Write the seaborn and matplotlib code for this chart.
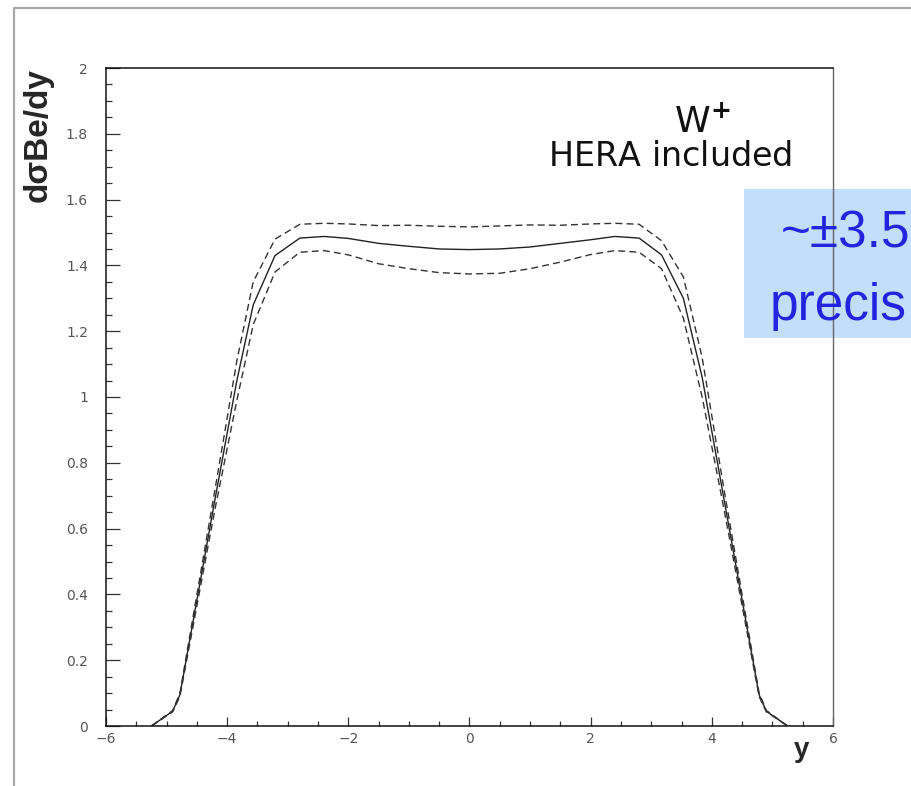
import matplotlib
matplotlib.use("Agg")
import numpy as np
import pandas as pd
import seaborn as sns
import matplotlib.pyplot as plt
from matplotlib.ticker import MultipleLocator, FixedLocator, FixedFormatter
from matplotlib.patches import Rectangle
from matplotlib.lines import Line2D

# ---- data ----
rapidity = [-5.25, -4.9, -4.78, -4.2, -3.84, -3.57, -3.21, -2.8, -2.4, -2.0, -1.5, -1.0, -0.5, 0.0,
            0.5, 1.0, 1.5, 2.0, 2.4, 2.8, 3.17, 3.53, 3.84, 4.2, 4.78, 4.9, 5.25]
central = [0, 0.045, 0.095, 0.69, 1.05, 1.28, 1.43, 1.483, 1.488, 1.482, 1.467, 1.458, 1.45, 1.448,
           1.45, 1.456, 1.467, 1.478, 1.488, 1.483, 1.432, 1.30, 1.06, 0.69, 0.095, 0.045, 0]
upper = [0, 0.047, 0.10, 0.72, 1.11, 1.35, 1.48, 1.525, 1.528, 1.526, 1.521, 1.522, 1.519, 1.517,
         1.52, 1.523, 1.522, 1.526, 1.528, 1.525, 1.475, 1.365, 1.12, 0.72, 0.10, 0.047, 0]
lower = [0, 0.043, 0.09, 0.66, 0.99, 1.22, 1.38, 1.44, 1.445, 1.432, 1.405, 1.39, 1.378, 1.374,
         1.376, 1.39, 1.41, 1.433, 1.445, 1.44, 1.39, 1.24, 1.00, 0.66, 0.09, 0.043, 0]

xtick_values = [-6, -4, -2, 0, 2, 4, 6]
xtick_labels = ["\u22126", "\u22124", "\u22122", "0", "2", "4", "6"]
ytick_values = [0, 0.2, 0.4, 0.6, 0.8, 1.0, 1.2, 1.4, 1.6, 1.8, 2.0]
ytick_labels = ["0", "0.2", "0.4", "0.6", "0.8", "1", "1.2", "1.4", "1.6", "1.8", "2"]

df = pd.DataFrame({"y": rapidity, "central": central, "upper": upper, "lower": lower})

sns.set_style("white")
plt.rcParams["font.family"] = ["DejaVu Sans"]
plt.rcParams["mathtext.fontset"] = "dejavusans"

fig = plt.figure(figsize=(9.12, 7.86), dpi=100)
fig.patch.set_facecolor("white")
W, H = 912, 786
ax = fig.add_axes([106 / W, 1 - 726 / H, (833 - 106) / W, (726 - 68) / H])
ax.patch.set_alpha(0)

# light blue annotation box (behind axes)
fig.add_artist(Rectangle((744 / W, 1 - 338 / H), (915 - 744) / W, (338 - 189) / H,
                         transform=fig.transFigure, facecolor="#c2defa", edgecolor="none", zorder=-5))
# outer gray frame (top & left)
fig.add_artist(Line2D([14 / W, 14 / W, 1.0], [0.0, 1 - 8 / H, 1 - 8 / H],
                      transform=fig.transFigure, color="#a8a8a8", lw=1.6, zorder=-4))

sns.lineplot(data=df, x="y", y="central", ax=ax, color="#222222", lw=1.0, estimator=None,
             sort=False, errorbar=None)
sns.lineplot(data=df, x="y", y="upper", ax=ax, color="#333333", lw=1.0, estimator=None,
             sort=False, errorbar=None, linestyle=(0, (5, 3)))
sns.lineplot(data=df, x="y", y="lower", ax=ax, color="#333333", lw=1.0, estimator=None,
             sort=False, errorbar=None, linestyle=(0, (5, 3)))

ax.set_xlim(-6, 6)
ax.set_ylim(0, 2)

ax.xaxis.set_major_locator(FixedLocator(xtick_values))
ax.xaxis.set_major_formatter(FixedFormatter(xtick_labels))
ax.xaxis.set_minor_locator(MultipleLocator(0.5))
ax.yaxis.set_major_locator(FixedLocator(ytick_values))
ax.yaxis.set_major_formatter(FixedFormatter(ytick_labels))
ax.yaxis.set_minor_locator(MultipleLocator(0.05))

ax.tick_params(axis="y", which="major", direction="in", length=10, width=0.9, color="#333333",
               left=True, right=False, pad=13, labelsize=10, labelcolor="#555555")
ax.tick_params(axis="y", which="minor", direction="in", length=4.5, width=0.9, color="#333333",
               left=True, right=False)
ax.tick_params(axis="x", which="major", direction="in", length=6.5, width=0.9, color="#333333",
               bottom=True, top=False, pad=4, labelsize=10, labelcolor="#555555")
ax.tick_params(axis="x", which="minor", direction="in", length=3.3, width=0.9, color="#333333",
               bottom=True, top=False)

for side in ["left", "bottom", "top"]:
    ax.spines[side].set_color("#111111")
    ax.spines[side].set_linewidth(1.1)
ax.spines["right"].set_color("#666666")
ax.spines["right"].set_linewidth(1.0)

ax.set_ylabel("d\u03c3Be/dy", fontsize=24, fontweight="bold", family=["Liberation Sans", "DejaVu Sans"],
              loc="top")
ax.yaxis.set_label_coords(-0.072, 1.0)
ax.set_xlabel("y", fontsize=20, fontweight="bold", family=["Liberation Sans", "DejaVu Sans"])
ax.xaxis.label.set_verticalalignment("center")
ax.xaxis.set_label_coords((802 - 106) / 727, (726 - 750) / 658)

# annotations
fig.text(674 / W, 1 - 132 / H, r"$\mathrm{W}^{\mathbf{+}}$", fontsize=26, ha="left", va="baseline",
         color="#111111")
fig.text(792 / W, 1 - 166 / H, r"$\mathrm{HERA\ included}$", fontsize=24, ha="right",
         va="baseline", color="#111111")

fig.text(910 / W, 1 - 247 / H, "~\u00b13.5", fontsize=37, ha="right", va="baseline",
         color="#2323e0", family=["Liberation Sans", "DejaVu Sans"])
fig.text(907 / W, 1 - 320 / H, "precis", fontsize=37, ha="right", va="baseline",
         color="#2323e0", family=["Liberation Sans", "DejaVu Sans"])

fig.savefig("out.png", dpi=100)
